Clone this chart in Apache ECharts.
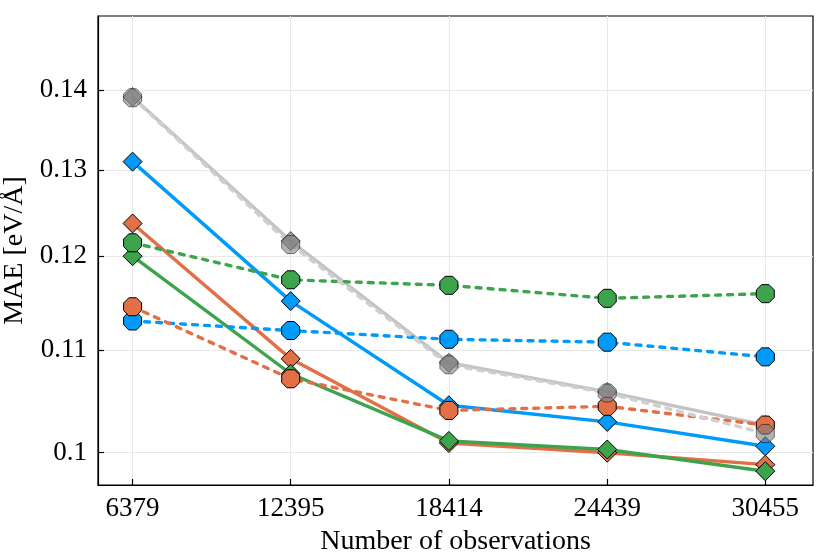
<!DOCTYPE html>
<html>
<head>
<meta charset="utf-8">
<script src="https://cdn.jsdelivr.net/npm/echarts@6/dist/echarts.min.js"></script>
<style>html,body{margin:0;padding:0;background:#fff}#c{width:830px;height:554px}</style>
</head>
<body>
<div id="c"></div>
<script>
const observations = [6379, 12395, 18414, 24439, 30455];
const yTicks = [0.10, 0.11, 0.12, 0.13, 0.14];

const graySolid   = [0.1391, 0.1217, 0.1087, 0.1058, 0.1026];
const blueSolid   = [0.1310, 0.1151, 0.1045, 0.1029, 0.1006];
const orangeSolid = [0.1237, 0.1091, 0.1009, 0.1000, 0.0989];
const greenSolid  = [0.1200, 0.1076, 0.1011, 0.1003, 0.0983];
const blueDashed  = [0.1130, 0.1120, 0.1111, 0.1108, 0.1093];
const orangeDashed= [0.1145, 0.1071, 0.1040, 0.1044, 0.1026];
const greenDashed = [0.1215, 0.1174, 0.1168, 0.1154, 0.1159];
const grayDashed  = [0.1390, 0.1213, 0.1085, 0.1057, 0.1018];

const OCT = 'path://M-0.383,-0.924L0.383,-0.924L0.924,-0.383L0.924,0.383L0.383,0.924L-0.383,0.924L-0.924,0.383L-0.924,-0.383Z';
const FONT = 'Liberation Serif';

function pairs(arr){ return observations.map((x,i)=>[x, arr[i]]); }

function mk(name, data, lineColor, fill, dashed, symbol, opts){
  opts = opts || {};
  return {
    name, type:'line', data: pairs(data),
    symbol: symbol, symbolSize: symbol === 'diamond' ? [19,19] : [18,18],
    symbolKeepAspect: true,
    lineStyle: { color: lineColor, width: 3.4, type: dashed ? [5,7] : 'solid', cap: 'round', join:'round', opacity: opts.lineOpacity == null ? 1 : opts.lineOpacity },
    itemStyle: { color: fill, borderColor: opts.border || '#000', borderWidth: 1, opacity: opts.markerOpacity == null ? 1 : opts.markerOpacity },
    emphasis: { disabled: true },
    z: opts.z || 2
  };
}

const chart = echarts.init(document.getElementById('c'), null, {renderer:'canvas'});
chart.setOption({
  animation: false,
  backgroundColor: '#fff',
  grid: { left: 98, top: 16, right: 17, bottom: 69, show: true, borderColor: '#000', borderWidth: 1.2, containLabel: false, outerBoundsMode: 'none' },
  xAxis: {
    type: 'value', min: 5063, max: 32269,
    name: 'Number of observations', nameLocation: 'middle', nameGap: 43,
    nameTextStyle: { fontFamily: FONT, fontSize: 28, color: '#000' },
    axisLine: { show: true, lineStyle: { color: '#000', width: 1.2 } },
    axisTick: { show: true, inside: true, length: 6, lineStyle: { color: '#000', width: 1.2 }, customValues: observations },
    axisLabel: { fontFamily: FONT, fontSize: 27, color: '#000', margin: 10, customValues: observations, formatter: v => String(v) },
    splitLine: { show: true, lineStyle: { color: '#e8e8e8', width: 1 } }
  },
  yAxis: {
    type: 'log', logBase: 10, min: 0.09705, max: 0.14995,
    name: 'MAE [eV/Å]', nameLocation: 'middle', nameGap: 66, nameRotate: 90,
    nameTextStyle: { fontFamily: FONT, fontSize: 28, color: '#000' },
    axisLine: { show: true, lineStyle: { color: '#000', width: 1.2 } },
    axisTick: { show: true, inside: true, length: 6, lineStyle: { color: '#000', width: 1.2 }, customValues: yTicks },
    axisLabel: { fontFamily: FONT, fontSize: 27, color: '#000', margin: 11, customValues: yTicks, formatter: v => String(Number((+v).toFixed(3))) },
    splitLine: { show: true, lineStyle: { color: '#e8e8e8', width: 1 } },
    minorTick: { show: false }
  },
  series: [
    mk('graySolid', graySolid, '#bdbdbd', 'rgba(128,128,128,0.75)', false, 'diamond', { border: 'rgba(0,0,0,0.6)', lineOpacity: 0.9 }),
    mk('blueSolid', blueSolid, '#009afa', '#009afa', false, 'diamond'),
    mk('orangeSolid', orangeSolid, '#e26f46', '#e26f46', false, 'diamond'),
    mk('greenSolid', greenSolid, '#3da44d', '#3da44d', false, 'diamond'),
    mk('blueDashed', blueDashed, '#009afa', '#009afa', true, OCT),
    mk('orangeDashed', orangeDashed, '#e26f46', '#e26f46', true, OCT),
    mk('greenDashed', greenDashed, '#3da44d', '#3da44d', true, OCT),
    mk('grayDashed', grayDashed, '#cfcfcf', 'rgba(128,128,128,0.6)', true, OCT, { border: 'rgba(0,0,0,0.5)' })
  ]
});
</script>
</body>
</html>
